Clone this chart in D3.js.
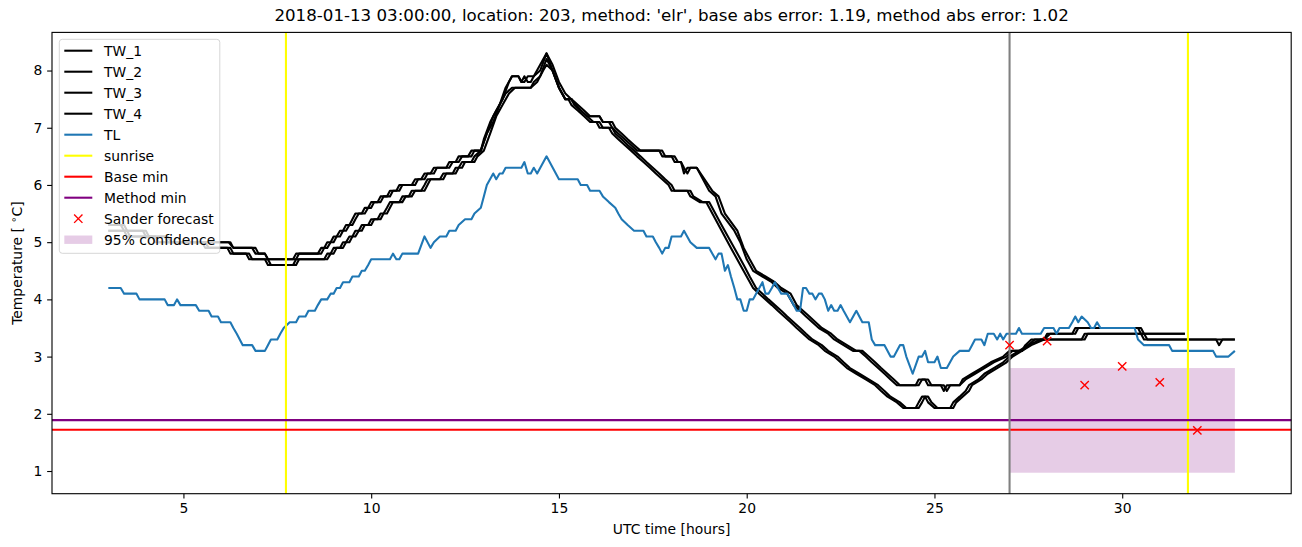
<!DOCTYPE html>
<html lang="en">
<head>
	<meta charset="utf-8">
	<title>Temperature forecast</title>
	<script src="https://cdn.jsdelivr.net/npm/d3@7"></script>
	<style>
		body { margin: 0; background: #fff; }
		text { font-family: "DejaVu Sans", sans-serif; fill: #000; }
		.axis path, .axis line { stroke: #000; stroke-width: 1.1; }
		.axis text { font-size: 13.9px; }
	</style>
</head>
<body>
	<script>
		// chart values, [hour, temperature] pairs
		var titleText = "2018-01-13 03:00:00, location: 203, method: 'elr', base abs error: 1.19, method abs error: 1.02";
		var xTicks = [5, 10, 15, 20, 25, 30];
		var yTicks = [1, 2, 3, 4, 5, 6, 7, 8];

		var tw1 = [[3.0,5.3],[3.33,5.3],[3.42,5.2],[3.92,5.2],[4.0,5.1],[4.5,5.1],[4.58,5.0],[6.2,5.0],[6.33,4.9],[6.83,4.9],[6.92,4.8],[7.17,4.8],[7.25,4.7],[7.92,4.7],[8.0,4.8],[8.58,4.8],[8.67,4.9],[8.75,4.9],[8.83,5.0],[8.92,5.0],[9.0,5.1],[9.08,5.1],[9.17,5.2],[9.25,5.2],[9.33,5.3],[9.42,5.3],[9.5,5.4],[9.58,5.5],[9.75,5.5],[9.83,5.6],[9.92,5.6],[10.0,5.7],[10.17,5.7],[10.25,5.8],[10.42,5.8],[10.5,5.9],[10.67,5.9],[10.75,6.0],[11.08,6.0],[11.17,6.1],[11.33,6.1],[11.42,6.2],[11.58,6.2],[11.67,6.3],[12.0,6.3],[12.08,6.4],[12.25,6.4],[12.33,6.5],[12.58,6.5],[12.67,6.6],[12.92,6.6],[13.0,6.8],[13.17,7.1],[13.33,7.3],[13.5,7.5],[13.67,7.8],[13.75,7.9],[13.92,7.9],[14.0,7.8],[14.08,7.9],[14.17,7.8],[14.25,7.8],[14.33,7.9],[14.5,8.0],[14.67,8.3],[14.83,8.0],[15.0,7.7],[15.17,7.5],[15.33,7.5],[15.42,7.4],[15.58,7.3],[15.75,7.2],[16.08,7.2],[16.17,7.1],[16.33,7.1],[16.42,7.0],[16.58,6.9],[16.75,6.8],[16.92,6.7],[17.08,6.6],[17.67,6.6],[17.75,6.5],[18.0,6.5],[18.08,6.4],[18.25,6.4],[18.33,6.2],[18.42,6.3],[18.67,6.3],[19.0,5.9],[19.17,5.8],[19.33,5.5],[19.67,5.2],[19.83,5.0],[20.0,4.7],[20.17,4.5],[20.42,4.4],[20.67,4.3],[20.83,4.2],[21.08,4.1],[21.25,3.9],[21.42,3.8],[21.58,3.7],[21.92,3.5],[22.17,3.4],[22.33,3.3],[22.58,3.2],[22.83,3.1],[23.0,3.1],[23.17,3.0],[23.33,2.9],[23.5,2.8],[23.67,2.7],[23.83,2.6],[24.0,2.5],[24.58,2.5],[24.67,2.6],[24.83,2.6],[24.92,2.5],[25.17,2.5],[25.25,2.4],[25.33,2.5],[25.67,2.5],[25.75,2.6],[26.0,2.7],[26.25,2.8],[26.5,2.9],[26.83,3.0],[27.0,3.1],[27.33,3.1],[27.42,3.2],[27.58,3.3],[27.92,3.3],[28.0,3.4],[28.67,3.4],[28.75,3.5],[30.42,3.5],[30.5,3.4],[31.67,3.4]];
		var tw2 = [[3.0,5.3],[3.42,5.3],[3.5,5.2],[4.0,5.2],[4.08,5.1],[4.58,5.1],[4.67,5.0],[6.25,5.0],[6.33,4.9],[6.92,4.9],[7.0,4.8],[7.17,4.8],[7.25,4.7],[8.0,4.7],[8.08,4.8],[8.67,4.8],[8.75,4.9],[8.83,4.9],[8.92,5.0],[9.0,5.0],[9.08,5.1],[9.17,5.1],[9.25,5.2],[9.33,5.2],[9.42,5.3],[9.5,5.3],[9.58,5.4],[9.67,5.5],[9.83,5.5],[9.92,5.6],[10.0,5.6],[10.08,5.7],[10.25,5.7],[10.33,5.8],[10.5,5.8],[10.58,5.9],[10.75,5.9],[10.83,6.0],[11.17,6.0],[11.25,6.1],[11.42,6.1],[11.5,6.2],[11.67,6.2],[11.75,6.3],[12.08,6.3],[12.17,6.4],[12.33,6.4],[12.42,6.5],[12.67,6.5],[12.75,6.6],[12.92,6.6],[13.08,6.9],[13.25,7.2],[13.42,7.4],[13.58,7.7],[13.75,7.9],[13.92,7.9],[14.0,7.8],[14.08,7.8],[14.17,7.9],[14.33,7.9],[14.5,8.1],[14.67,8.3],[14.83,8.1],[15.0,7.8],[15.17,7.6],[15.33,7.5],[15.5,7.4],[15.67,7.3],[15.83,7.2],[16.08,7.2],[16.17,7.1],[16.42,7.1],[16.5,7.0],[16.67,6.9],[16.83,6.8],[17.0,6.7],[17.17,6.6],[17.75,6.6],[17.83,6.5],[18.08,6.5],[18.17,6.4],[18.25,6.4],[18.33,6.3],[18.42,6.2],[18.5,6.3],[18.67,6.3],[19.08,5.9],[19.25,5.8],[19.42,5.5],[19.75,5.2],[19.92,4.9],[20.08,4.7],[20.25,4.5],[20.5,4.4],[20.75,4.3],[20.92,4.2],[21.17,4.1],[21.33,3.9],[21.5,3.8],[21.67,3.7],[22.0,3.5],[22.25,3.4],[22.42,3.3],[22.67,3.2],[22.92,3.1],[23.08,3.1],[23.25,3.0],[23.42,2.9],[23.58,2.8],[23.75,2.7],[23.92,2.6],[24.08,2.5],[24.5,2.5],[24.58,2.6],[24.75,2.6],[24.83,2.5],[25.25,2.5],[25.33,2.4],[25.42,2.5],[25.67,2.5],[25.83,2.6],[26.08,2.7],[26.33,2.8],[26.58,2.9],[26.92,3.0],[27.08,3.1],[27.33,3.1],[27.5,3.2],[27.67,3.3],[27.92,3.3],[28.08,3.4],[28.75,3.4],[28.83,3.5],[30.5,3.5],[30.58,3.4],[31.67,3.4]];
		var tw3 = [[3.0,5.2],[3.42,5.2],[3.5,5.1],[4.17,5.1],[4.25,5.0],[5.5,5.0],[5.58,4.9],[6.25,4.9],[6.33,4.8],[6.67,4.8],[6.75,4.7],[7.17,4.7],[7.25,4.6],[8.0,4.6],[8.08,4.7],[8.75,4.7],[8.83,4.8],[8.92,4.8],[9.0,4.9],[9.17,4.9],[9.25,5.0],[9.33,5.0],[9.42,5.1],[9.5,5.1],[9.58,5.2],[9.67,5.2],[9.75,5.3],[9.92,5.3],[10.0,5.4],[10.17,5.4],[10.25,5.5],[10.33,5.5],[10.42,5.6],[10.5,5.7],[10.75,5.7],[10.83,5.8],[11.0,5.8],[11.08,5.9],[11.33,5.9],[11.42,6.0],[11.5,6.1],[11.83,6.1],[11.92,6.2],[12.17,6.2],[12.25,6.3],[12.33,6.3],[12.42,6.4],[12.67,6.4],[12.75,6.5],[12.92,6.6],[13.08,6.9],[13.25,7.1],[13.42,7.4],[13.58,7.6],[13.75,7.7],[14.25,7.7],[14.33,7.8],[14.5,7.9],[14.67,8.2],[14.83,8.0],[15.0,7.7],[15.17,7.5],[15.25,7.5],[15.33,7.4],[15.5,7.3],[15.67,7.2],[15.83,7.1],[16.0,7.1],[16.08,7.0],[16.33,7.0],[16.42,6.9],[16.58,6.8],[16.75,6.7],[16.92,6.6],[17.08,6.5],[17.25,6.4],[17.42,6.3],[17.58,6.2],[17.75,6.1],[17.92,6.0],[18.0,5.9],[18.42,5.9],[18.5,5.8],[18.75,5.7],[18.92,5.7],[19.25,5.3],[19.58,4.9],[19.83,4.6],[20.0,4.4],[20.17,4.2],[20.33,4.1],[20.5,4.0],[20.67,3.9],[20.83,3.8],[21.0,3.7],[21.17,3.6],[21.33,3.5],[21.5,3.4],[21.67,3.3],[21.92,3.2],[22.08,3.1],[22.33,3.0],[22.5,2.9],[22.67,2.8],[22.92,2.7],[23.17,2.6],[23.42,2.5],[23.58,2.4],[23.75,2.3],[24.0,2.2],[24.17,2.1],[24.5,2.1],[24.58,2.2],[24.67,2.3],[24.75,2.3],[24.83,2.2],[25.0,2.1],[25.42,2.1],[25.5,2.2],[25.67,2.3],[25.83,2.4],[25.92,2.5],[26.17,2.6],[26.33,2.7],[26.58,2.8],[26.83,2.9],[27.0,3.0],[27.25,3.1],[27.5,3.2],[27.83,3.3],[28.92,3.3],[29.0,3.4],[30.5,3.4],[30.58,3.3],[32.5,3.3],[32.58,3.2],[32.67,3.3],[33.0,3.3]];
		var tw4 = [[3.0,5.2],[3.5,5.2],[3.58,5.1],[4.25,5.1],[4.33,5.0],[5.58,5.0],[5.67,4.9],[6.17,4.9],[6.25,4.8],[6.75,4.8],[6.83,4.7],[7.25,4.7],[7.33,4.6],[7.92,4.6],[8.0,4.7],[8.83,4.7],[8.92,4.8],[9.0,4.8],[9.08,4.9],[9.25,4.9],[9.33,5.0],[9.42,5.0],[9.5,5.1],[9.58,5.1],[9.67,5.2],[9.75,5.2],[9.83,5.3],[10.0,5.3],[10.08,5.4],[10.25,5.4],[10.33,5.5],[10.42,5.5],[10.5,5.6],[10.58,5.7],[10.83,5.7],[10.92,5.8],[11.08,5.8],[11.17,5.9],[11.42,5.9],[11.5,6.0],[11.58,6.1],[11.92,6.1],[12.0,6.2],[12.25,6.2],[12.33,6.3],[12.42,6.3],[12.5,6.4],[12.75,6.4],[12.83,6.5],[13.0,6.6],[13.17,6.9],[13.33,7.2],[13.5,7.4],[13.67,7.6],[13.83,7.7],[14.25,7.7],[14.42,7.8],[14.58,8.0],[14.67,8.1],[14.83,8.0],[15.0,7.7],[15.17,7.5],[15.33,7.5],[15.42,7.4],[15.58,7.3],[15.75,7.2],[15.92,7.1],[16.08,7.1],[16.17,7.0],[16.42,7.0],[16.5,6.9],[16.67,6.8],[16.83,6.7],[17.0,6.6],[17.17,6.5],[17.33,6.4],[17.5,6.3],[17.67,6.2],[17.83,6.1],[18.0,6.0],[18.08,5.9],[18.5,5.9],[18.58,5.8],[18.83,5.7],[19.0,5.7],[19.33,5.3],[19.67,4.9],[19.92,4.6],[20.08,4.4],[20.25,4.2],[20.42,4.1],[20.58,4.0],[20.75,3.9],[20.92,3.8],[21.08,3.7],[21.25,3.6],[21.42,3.5],[21.58,3.4],[21.75,3.3],[22.0,3.2],[22.17,3.1],[22.42,3.0],[22.58,2.9],[22.75,2.8],[23.0,2.7],[23.25,2.6],[23.5,2.5],[23.67,2.4],[23.83,2.3],[24.08,2.2],[24.25,2.1],[24.58,2.1],[24.67,2.2],[24.75,2.3],[24.83,2.3],[24.92,2.2],[25.08,2.1],[25.5,2.1],[25.58,2.2],[25.75,2.3],[25.92,2.4],[26.0,2.5],[26.25,2.6],[26.42,2.7],[26.67,2.8],[26.92,2.9],[27.08,3.0],[27.33,3.1],[27.58,3.2],[27.92,3.3],[29.0,3.3],[29.08,3.4],[30.58,3.4],[30.67,3.3],[33.0,3.3]];
		var tl = [[3.0,4.2],[3.33,4.2],[3.42,4.1],[3.75,4.1],[3.83,4.0],[4.5,4.0],[4.58,3.9],[4.75,3.9],[4.83,4.0],[4.92,3.9],[5.33,3.9],[5.42,3.8],[5.67,3.8],[5.75,3.7],[5.92,3.7],[6.0,3.6],[6.25,3.6],[6.33,3.5],[6.42,3.4],[6.5,3.3],[6.58,3.2],[6.83,3.2],[6.92,3.1],[7.17,3.1],[7.25,3.2],[7.33,3.3],[7.5,3.3],[7.58,3.4],[7.67,3.5],[7.83,3.6],[8.0,3.6],[8.08,3.7],[8.25,3.7],[8.33,3.8],[8.5,3.8],[8.58,3.9],[8.67,4.0],[8.83,4.0],[8.92,4.1],[9.0,4.1],[9.08,4.2],[9.17,4.2],[9.25,4.3],[9.42,4.3],[9.5,4.4],[9.67,4.4],[9.75,4.5],[9.83,4.5],[9.92,4.6],[10.0,4.7],[10.5,4.7],[10.58,4.8],[10.67,4.7],[10.75,4.7],[10.83,4.8],[11.25,4.8],[11.42,5.1],[11.58,4.9],[11.67,5.0],[11.83,5.1],[12.0,5.1],[12.08,5.2],[12.25,5.2],[12.33,5.3],[12.5,5.4],[12.67,5.4],[12.75,5.5],[12.92,5.6],[13.0,5.8],[13.08,6.0],[13.25,6.2],[13.33,6.1],[13.42,6.2],[13.5,6.2],[13.58,6.3],[14.0,6.3],[14.08,6.4],[14.17,6.2],[14.25,6.2],[14.33,6.3],[14.42,6.2],[14.67,6.5],[15.0,6.1],[15.5,6.1],[15.58,6.0],[15.75,6.0],[15.83,5.9],[16.08,5.9],[16.17,5.8],[16.33,5.7],[16.5,5.6],[16.58,5.5],[16.67,5.4],[16.83,5.3],[17.0,5.2],[17.25,5.2],[17.33,5.1],[17.5,5.1],[17.58,5.0],[17.67,4.9],[17.75,4.8],[17.83,4.9],[17.92,4.9],[18.0,5.1],[18.25,5.1],[18.33,5.2],[18.5,5.0],[18.67,4.9],[19.0,4.9],[19.17,4.7],[19.25,4.8],[19.33,4.8],[19.42,4.5],[19.5,4.6],[19.58,4.4],[19.67,4.2],[19.75,4.0],[19.83,4.0],[19.92,3.8],[20.0,3.8],[20.08,4.0],[20.17,4.0],[20.25,4.1],[20.42,4.3],[20.5,4.1],[20.58,4.1],[20.67,4.2],[20.75,4.3],[20.83,4.2],[20.92,4.1],[21.08,4.1],[21.17,4.0],[21.25,3.9],[21.33,3.8],[21.42,3.8],[21.5,4.2],[21.58,4.2],[21.67,4.1],[21.75,4.1],[21.83,4.0],[21.92,4.1],[22.0,4.1],[22.08,4.0],[22.17,3.8],[22.25,3.9],[22.33,3.8],[22.42,3.8],[22.5,3.9],[22.58,3.8],[22.75,3.6],[22.92,3.8],[23.0,3.7],[23.08,3.6],[23.25,3.6],[23.33,3.3],[23.42,3.2],[23.67,3.2],[23.83,3.0],[23.92,3.0],[24.08,3.2],[24.17,3.2],[24.25,3.0],[24.42,2.7],[24.58,3.0],[24.67,3.0],[24.75,3.1],[24.83,2.9],[25.0,2.9],[25.08,3.0],[25.17,2.8],[25.33,2.8],[25.5,3.0],[25.67,3.1],[25.92,3.1],[26.0,3.2],[26.08,3.3],[26.25,3.3],[26.33,3.2],[26.42,3.4],[26.58,3.4],[26.67,3.3],[26.75,3.4],[26.83,3.3],[26.92,3.4],[27.17,3.4],[27.25,3.5],[27.33,3.4],[27.83,3.4],[27.92,3.5],[28.17,3.5],[28.25,3.4],[28.33,3.5],[28.58,3.5],[28.67,3.6],[28.75,3.7],[28.83,3.6],[28.92,3.7],[29.08,3.6],[29.17,3.5],[29.25,3.5],[29.33,3.6],[29.42,3.5],[30.33,3.5],[30.42,3.3],[30.58,3.2],[31.25,3.2],[31.33,3.1],[32.42,3.1],[32.5,3.0],[32.83,3.0],[33.0,3.1]];

		var sunrise = [7.73, 31.75];
		var baseMin = 1.72;
		var methodMin = 1.89;
		var forecastStart = 27;
		var sanderHours = [27, 28, 29, 30, 31, 32];
		var sanderTemps = [3.20, 3.27, 2.50, 2.83, 2.55, 1.71];
		var confHours = [27, 33];
		var confBand = [0.97, 2.80];

		var width = 1302;
		var height = 547;
		var plotLeft = 52, plotRight = 1291.2, plotTop = 32.4, plotBottom = 493.7;
		var pt = 100 / 72;

		var svg = d3.select("body")
			.append("svg")
			.attr("width", width)
			.attr("height", height);

		// matplotlib style 5% margins around the data
		var allX = [].concat(tw1, tw2, tw3, tw4, tl).map(function(d) { return d[0]; }).concat(confHours);
		var allY = [].concat(tw1, tw2, tw3, tw4, tl).map(function(d) { return d[1]; }).concat(confBand, sanderTemps);
		var xe = d3.extent(allX), ye = d3.extent(allY);
		var xp = (xe[1] - xe[0]) * 0.05, yp = (ye[1] - ye[0]) * 0.05;

		var x = d3.scaleLinear().domain([xe[0] - xp, xe[1] + xp]).range([plotLeft, plotRight]);
		var y = d3.scaleLinear().domain([ye[0] - yp, ye[1] + yp]).range([plotBottom, plotTop]);

		var line = d3.line()
			.x(function(d) { return x(d[0]); })
			.y(function(d) { return y(d[1]); });

		var plot = svg.append("g");

		// 95% confidence band
		plot.append("rect")
			.attr("x", x(confHours[0]))
			.attr("y", y(confBand[1]))
			.attr("width", x(confHours[1]) - x(confHours[0]))
			.attr("height", y(confBand[0]) - y(confBand[1]))
			.attr("fill", "purple")
			.attr("fill-opacity", 0.2);

		[tw1, tw2, tw3, tw4].forEach(function(s) {
			plot.append("path")
				.datum(s)
				.attr("d", line)
				.attr("fill", "none")
				.attr("stroke", "black")
				.attr("stroke-width", 1.5 * pt)
				.attr("stroke-linejoin", "round");
		});

		plot.append("path")
			.datum(tl)
			.attr("d", line)
			.attr("fill", "none")
			.attr("stroke", "#1f77b4")
			.attr("stroke-width", 1.5 * pt)
			.attr("stroke-linejoin", "round");

		plot.selectAll(".sunrise")
			.data(sunrise)
			.enter()
			.append("line")
			.attr("x1", function(d) { return x(d); })
			.attr("x2", function(d) { return x(d); })
			.attr("y1", plotTop)
			.attr("y2", plotBottom)
			.attr("stroke", "yellow")
			.attr("stroke-width", 1.5 * pt);

		[[baseMin, "red"], [methodMin, "purple"]].forEach(function(h) {
			plot.append("line")
				.attr("x1", plotLeft)
				.attr("x2", plotRight)
				.attr("y1", y(h[0]))
				.attr("y2", y(h[0]))
				.attr("stroke", h[1])
				.attr("stroke-width", 1.5 * pt);
		});

		plot.append("line")
			.attr("x1", x(forecastStart))
			.attr("x2", x(forecastStart))
			.attr("y1", plotTop)
			.attr("y2", plotBottom)
			.attr("stroke", "grey")
			.attr("stroke-width", 1.5 * pt);

		function cross(g, cx, cy) {
			var r = 3 * pt;
			g.append("path")
				.attr("d", "M" + (cx - r) + "," + (cy - r) + "L" + (cx + r) + "," + (cy + r) +
					"M" + (cx - r) + "," + (cy + r) + "L" + (cx + r) + "," + (cy - r))
				.attr("stroke", "red")
				.attr("stroke-width", 1 * pt)
				.attr("fill", "none");
		}

		sanderHours.forEach(function(h, i) {
			cross(plot, x(h), y(sanderTemps[i]));
		});

		// axes
		var xAxis = svg.append("g")
			.attr("class", "axis")
			.attr("transform", "translate(0," + plotBottom + ")")
			.call(d3.axisBottom(x).tickValues(xTicks).tickFormat(d3.format("d")).tickSize(3.5 * pt).tickPadding(3.5 * pt));
		xAxis.select(".domain").remove();

		var yAxis = svg.append("g")
			.attr("class", "axis")
			.attr("transform", "translate(" + plotLeft + ",0)")
			.call(d3.axisLeft(y).tickValues(yTicks).tickFormat(d3.format("d")).tickSize(3.5 * pt).tickPadding(3.5 * pt));
		yAxis.select(".domain").remove();

		svg.append("rect")
			.attr("x", plotLeft)
			.attr("y", plotTop)
			.attr("width", plotRight - plotLeft)
			.attr("height", plotBottom - plotTop)
			.attr("fill", "none")
			.attr("stroke", "black")
			.attr("stroke-width", 0.8 * pt);

		svg.append("text")
			.attr("x", (plotLeft + plotRight) / 2)
			.attr("y", plotTop - 6 * pt - 3)
			.attr("text-anchor", "middle")
			.style("font-size", (12 * pt) + "px")
			.text(titleText);

		svg.append("text")
			.attr("x", (plotLeft + plotRight) / 2)
			.attr("y", 534)
			.attr("text-anchor", "middle")
			.style("font-size", (10 * pt) + "px")
			.text("UTC time [hours]");

		var yl = svg.append("text")
			.attr("transform", "translate(22," + ((plotTop + plotBottom) / 2) + ") rotate(-90)")
			.attr("text-anchor", "middle")
			.style("font-size", (10 * pt) + "px");
		yl.append("tspan").text("Temperature [ ");
		yl.append("tspan").attr("dy", -5).style("font-size", "10px").text("\u2218");
		yl.append("tspan").attr("dy", 5).text("C]");

		// legend
		var legendItems = [
			{ name: "TW_1", kind: "line", color: "black" },
			{ name: "TW_2", kind: "line", color: "black" },
			{ name: "TW_3", kind: "line", color: "black" },
			{ name: "TW_4", kind: "line", color: "black" },
			{ name: "TL", kind: "line", color: "#1f77b4" },
			{ name: "sunrise", kind: "line", color: "yellow" },
			{ name: "Base min", kind: "line", color: "red" },
			{ name: "Method min", kind: "line", color: "purple" },
			{ name: "Sander forecast", kind: "marker", color: "red" },
			{ name: "95% confidence", kind: "patch", color: "purple" }
		];

		var legend = svg.append("g");
		legend.append("rect")
			.attr("x", 59.3)
			.attr("y", 39.3)
			.attr("width", 160.5)
			.attr("height", 214)
			.attr("rx", 3)
			.attr("fill", "white")
			.attr("fill-opacity", 0.8)
			.attr("stroke", "#cccccc")
			.attr("stroke-opacity", 0.8)
			.attr("stroke-width", 1);

		legendItems.forEach(function(d, i) {
			var cy = 50.7 + i * 21;
			if (d.kind === "line") {
				legend.append("line")
					.attr("x1", 64.3).attr("x2", 92.3)
					.attr("y1", cy).attr("y2", cy)
					.attr("stroke", d.color)
					.attr("stroke-width", 1.5 * pt);
			} else if (d.kind === "marker") {
				cross(legend, 78.3, cy);
			} else {
				legend.append("rect")
					.attr("x", 64.3).attr("y", cy - 4.2)
					.attr("width", 28).attr("height", 8.4)
					.attr("fill", d.color)
					.attr("fill-opacity", 0.2);
			}
			legend.append("text")
				.attr("x", 104)
				.attr("y", cy + 5)
				.style("font-size", (10 * pt) + "px")
				.text(d.name);
		});
	</script>
</body>
</html>
